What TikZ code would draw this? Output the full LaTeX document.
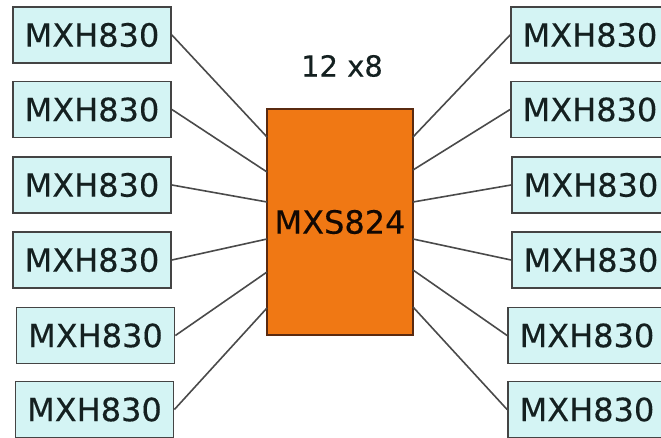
\documentclass[tikz,border=0pt]{standalone}
\usepackage{fontspec}
\setmainfont{DejaVu Sans}
\newfontfamily\boxfont[FakeBold=0.4]{DejaVu Sans}
\definecolor{boxfill}{HTML}{D4F4F4}
\definecolor{boxdraw}{HTML}{444444}
\definecolor{hubfill}{HTML}{F07814}
\definecolor{hubdraw}{HTML}{5A2A10}
\definecolor{wire}{HTML}{4A4A4A}
\definecolor{txt}{HTML}{142020}
\begin{document}
\begin{tikzpicture}[x=1pt,y=-1pt,
  mxh/.style={draw=boxdraw,line width=1.8pt,fill=boxfill,minimum width=158pt,minimum height=56pt,inner sep=0pt,
    font=\boxfont\fontsize{32}{38}\selectfont,text=txt},
  hub/.style={draw=hubdraw,line width=1.4pt,fill=hubfill,minimum width=146pt,minimum height=226pt,inner sep=0pt,
    font=\boxfont\fontsize{32}{38}\selectfont,text=black!80!hubdraw},
  wireline/.style={draw=wire,line width=1.6pt}]
\useasboundingbox (0,0) rectangle (661,438);
\node[hub] (C) at (340,222) {MXS824};
\node[font=\boxfont\fontsize{29}{35}\selectfont,text=txt] (T) at (342,66) {12 x8};
% left boxes
\node[mxh] (L1) at (92,35) {MXH830};
\node[mxh] (L2) at (92,109.5) {MXH830};
\node[mxh] (L3) at (92,185) {MXH830};
\node[mxh] (L4) at (92,260) {MXH830};
\node[mxh] (L5) at (95.5,335.5) {MXH830};
\node[mxh] (L6) at (94.5,409.5) {MXH830};
% right boxes
\node[mxh] (R1) at (590,35) {MXH830};
\node[mxh] (R2) at (590,109.5) {MXH830};
\node[mxh] (R3) at (591,185) {MXH830};
\node[mxh] (R4) at (591,260) {MXH830};
\node[mxh] (R5) at (587,335.5) {MXH830};
\node[mxh] (R6) at (587,409.5) {MXH830};
% connection points on the hub
\coordinate (cl1) at (267,137);
\coordinate (cl2) at (267,172);
\coordinate (cl3) at (267,202);
\coordinate (cl4) at (267,239);
\coordinate (cl5) at (267,272);
\coordinate (cl6) at (267,308);
\coordinate (cr1) at (413,137);
\coordinate (cr2) at (413,170);
\coordinate (cr3) at (413,202);
\coordinate (cr4) at (413,239);
\coordinate (cr5) at (413,270);
\coordinate (cr6) at (413,307);
\foreach \i in {1,...,6}{
  \draw[wireline] (L\i.east) -- (cl\i);
  \draw[wireline] (R\i.west) -- (cr\i);
}
\end{tikzpicture}
\end{document}
